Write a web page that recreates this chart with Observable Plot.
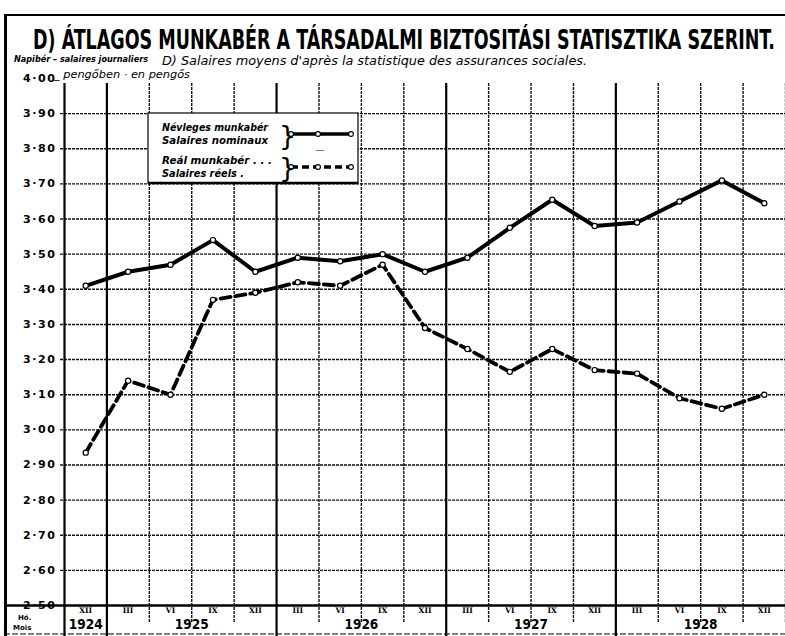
<!DOCTYPE html>
<html><head><meta charset="utf-8">
<script src="https://cdn.jsdelivr.net/npm/d3@7"></script>
<script src="https://cdn.jsdelivr.net/npm/@observablehq/plot@0.6"></script>
<style>
html,body{margin:0;padding:0;background:#fff;}
#wrap{position:relative;width:785px;height:636px;overflow:hidden;background:#fff;}
#wrap svg{position:absolute;left:0;top:0;}
.yax text{letter-spacing:1.6px;}
</style></head><body><div id="wrap"></div>
<script>
// ---- data ----
const periods = ["XII","III","VI","IX","XII","III","VI","IX","XII","III","VI","IX","XII","III","VI","IX","XII"];
const periodYears = ["1924","1925","1925","1925","1925","1926","1926","1926","1926","1927","1927","1927","1927","1928","1928","1928","1928"];
const nominal = [3.41, 3.45, 3.47, 3.54, 3.45, 3.49, 3.48, 3.50, 3.45, 3.49, 3.575, 3.655, 3.58, 3.59, 3.65, 3.71, 3.645];
const real    = [2.935, 3.14, 3.10, 3.37, 3.39, 3.42, 3.41, 3.47, 3.29, 3.23, 3.165, 3.23, 3.17, 3.16, 3.09, 3.06, 3.10];
const yTicks = [2.5, 2.6, 2.7, 2.8, 2.9, 3.0, 3.1, 3.2, 3.3, 3.4, 3.5, 3.6, 3.7, 3.8, 3.9, 4.0];
const yearLabels = ["1924","1925","1926","1927","1928"];
const seriesNames = [["Névleges munkabér","Salaires nominaux"],["Reál munkabér . . .","Salaires réels ."]];
const title = "D) ÁTLAGOS MUNKABÉR A TÁRSADALMI BIZTOSITÁSI STATISZTIKA SZERINT.";
const subtitle = "D) Salaires moyens d'après la statistique des assurances sociales.";
const unitTop = "Napibér – salaires journaliers";
const unitBottom = "_ pengőben · en pengős";
const cornerLabels = ["Hó.", "Mois"];

// ---- derived tables ----
const idx = d3.range(periods.length);
const data = idx.map(i => ({i, period: periods[i], year: periodYears[i], nominal: nominal[i], real: real[i]}));
const boundaries = d3.range(periods.length + 1).map(k => k - 0.5);
const yearBreaks = boundaries.filter(b => b === -0.5 ||
  (b > 0 && b < periods.length - 0.5 && periodYears[b + 0.5] !== periodYears[b - 0.5]));
const minorBreaks = boundaries.filter(b => !yearBreaks.includes(b));
const yearCenters = yearLabels.map(y => ({label: y, x: d3.mean(idx.filter(i => periodYears[i] === y))}));
const fmt = v => v.toFixed(2).replace(".", "·");

const chart = Plot.plot({
  width: 785, height: 636,
  marginTop: 78, marginBottom: 31, marginLeft: 64, marginRight: 0,
  x: {domain: [-0.5, periods.length - 0.5], axis: null},
  y: {domain: [2.5, 4.0], axis: null},
  style: {background: "transparent", fontFamily: "'DejaVu Sans', sans-serif", color: "#000", overflow: "visible"},
  marks: [
    Plot.ruleY(yTicks.filter(v => v > 2.5 && v < 4.0), {stroke: "#111", strokeWidth: 1.4, strokeDasharray: "3,1", insetLeft: -4}),
    Plot.ruleX(minorBreaks, {stroke: "#111", strokeWidth: 1.4, strokeDasharray: "3,1", insetTop: 5, insetBottom: -18}),
    Plot.ruleX(yearBreaks, {stroke: "#000", strokeWidth: 2.2, insetTop: 5, insetBottom: -31}),
    Plot.ruleY([2.5], {stroke: "#000", strokeWidth: 2.4, insetLeft: -60}),
    Plot.line(data, {x: "i", y: "real", stroke: "#000", strokeWidth: 3.8, strokeDasharray: "10,5"}),
    Plot.line(data, {x: "i", y: "nominal", stroke: "#000", strokeWidth: 4}),
    Plot.dot(data, {x: "i", y: "real", r: 2.6, fill: "#fff", stroke: "#000", strokeWidth: 1.2}),
    Plot.dot(data, {x: "i", y: "nominal", r: 2.6, fill: "#fff", stroke: "#000", strokeWidth: 1.2}),
    Plot.axisY({ticks: yTicks, tickSize: 0, tickPadding: 8, tickFormat: fmt, fontSize: 11, fontWeight: "bold", className: "yax"}),
    Plot.axisX({ticks: idx, tickSize: 0, tickPadding: 2, tickFormat: i => periods[i], fontSize: 7.5, fontWeight: "bold", fontFamily: "'DejaVu Serif', serif"}),
    Plot.text(yearCenters, {x: "x", text: "label", frameAnchor: "bottom", dy: 23, fontSize: 13.5, fontWeight: "bold", fontFamily: "'Liberation Sans Narrow', 'DejaVu Sans Condensed', sans-serif"})
  ]
});
document.getElementById("wrap").appendChild(chart);

// ---- overlay: frame, title, subtitle, legend ----
const ov = d3.select("#wrap").append("svg").attr("width", 785).attr("height", 636);
ov.append("rect").attr("x", 4).attr("y", 14).attr("width", 3).attr("height", 622).attr("fill", "#000");
ov.append("line").attr("x1", 4).attr("x2", 785).attr("y1", 15).attr("y2", 15).attr("stroke", "#000").attr("stroke-width", 2);
ov.append("line").attr("x1", 4).attr("x2", 785).attr("y1", 634).attr("y2", 634).attr("stroke", "#000").attr("stroke-width", 1.2).attr("stroke-dasharray", "6,2");

function t(str, x, y, size, o = {}) {
  const e = ov.append("text").attr("x", x).attr("y", y).attr("font-size", size)
    .attr("font-family", o.family || "'DejaVu Sans', sans-serif")
    .attr("font-weight", o.weight || "normal").attr("font-style", o.style || "normal")
    .attr("text-anchor", o.anchor || "start").attr("fill", "#000").text(str);
  if (o.len) {
    const natural = e.node().getComputedTextLength();
    if (natural > o.len) {
      const f = size * o.len / natural * 0.999;
      e.attr("font-size", f);
      if (o.keepHeight) {
        // restore the original glyph height by stretching vertically around the baseline
        e.attr("x", 0).attr("y", 0).attr("transform", `translate(${x},${y}) scale(1,${size / f})`);
      }
    }
    e.attr("textLength", o.len).attr("lengthAdjust", "spacingAndGlyphs");
  }
  return e;
}
t(title, 33, 49, 26, {family: "'Liberation Sans Narrow', 'DejaVu Sans Condensed', sans-serif", weight: "bold", len: 742, keepHeight: true});
t(subtitle, 162, 65, 12, {style: "italic", len: 425});
t(unitTop, 14, 62, 8, {style: "italic", weight: "bold", len: 134});
t(unitBottom, 54, 78, 11, {style: "italic", len: 136});
t(cornerLabels[0], 18, 620, 7, {weight: "bold"});
t(cornerLabels[1], 13, 630, 7, {weight: "bold"});

// legend
const lg = ov.append("g");
lg.append("rect").attr("x", 148).attr("y", 113).attr("width", 210).attr("height", 70).attr("fill", "#fff").attr("stroke", "#000").attr("stroke-width", 1.2);
lg.append("line").attr("x1", 148).attr("x2", 358).attr("y1", 183).attr("y2", 183).attr("stroke", "#000").attr("stroke-width", 2.4);
const lf = {style: "italic", weight: "bold", family: "'DejaVu Sans Condensed', 'Liberation Sans Narrow', sans-serif"};
t(seriesNames[0][0], 162, 131, 10.5, {...lf, len: 106});
t(seriesNames[0][1], 162, 144, 10.5, {...lf, len: 106});
t(seriesNames[1][0], 162, 164, 10.5, {...lf, len: 110});
t(seriesNames[1][1], 162, 177, 10.5, {...lf, len: 82});
t("}", 279, 145, 27, {family: "'DejaVu Sans', sans-serif"});
t("}", 279, 177, 27, {family: "'DejaVu Sans', sans-serif"});
t("—", 320, 153, 9, {anchor: "middle"});
[[134, null], [167, "7,4"]].forEach(([y, dash]) => {
  const l = lg.append("line").attr("x1", 291).attr("x2", 351).attr("y1", y).attr("y2", y).attr("stroke", "#000").attr("stroke-width", 3.5);
  if (dash) l.attr("stroke-dasharray", dash);
  [291, 318, 351].forEach(cx => lg.append("circle").attr("cx", cx).attr("cy", y).attr("r", 2.4).attr("fill", "#fff").attr("stroke", "#000").attr("stroke-width", 1.1));
});
</script>
</body></html>
